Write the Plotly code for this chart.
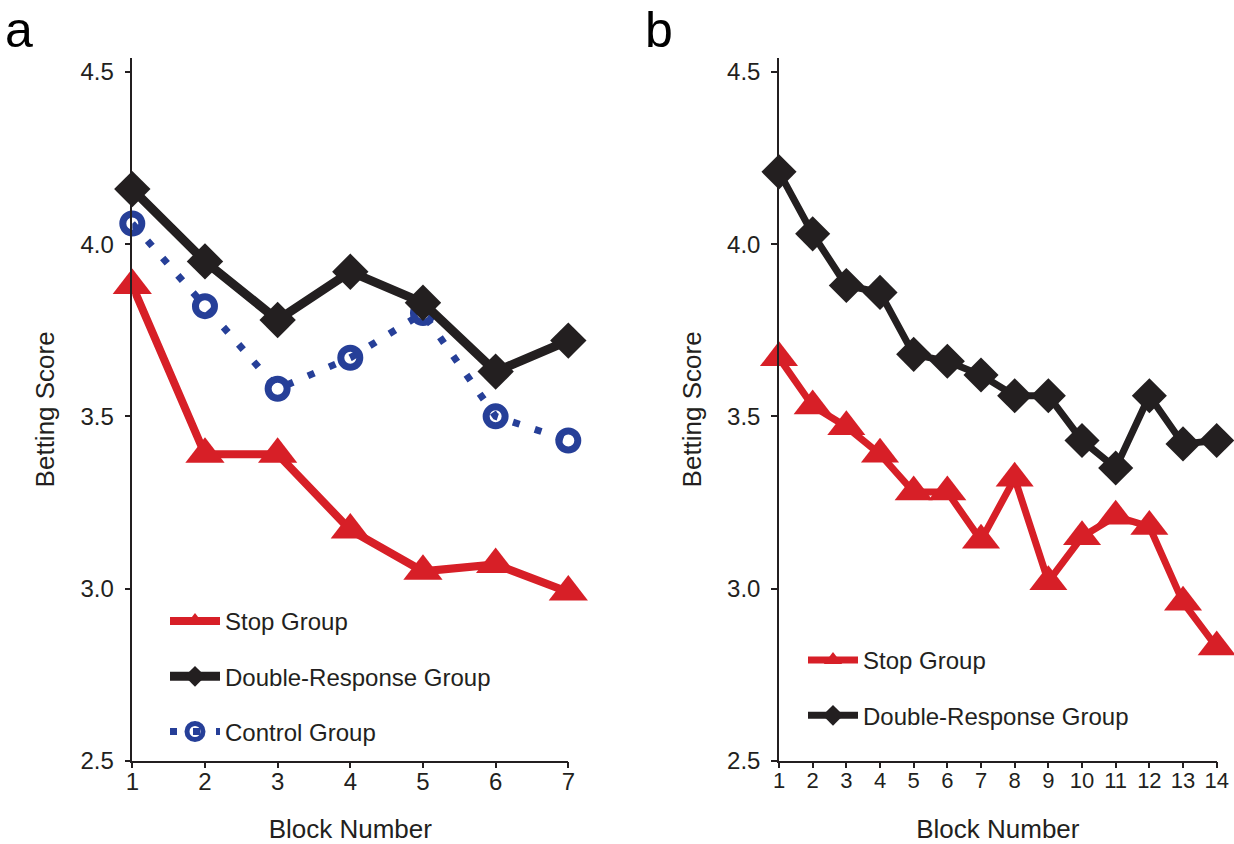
import plotly.graph_objects as go

# ---------------- data ----------------
blocks_a = [1, 2, 3, 4, 5, 6, 7]
stop_a = [3.88, 3.39, 3.39, 3.17, 3.05, 3.07, 2.99]
double_a = [4.16, 3.95, 3.78, 3.92, 3.83, 3.63, 3.72]
control_a = [4.06, 3.82, 3.58, 3.67, 3.80, 3.50, 3.43]

blocks_b = list(range(1, 15))
stop_b = [3.67, 3.53, 3.47, 3.39, 3.28, 3.28, 3.14, 3.32, 3.02, 3.15, 3.21, 3.18, 2.96, 2.83]
double_b = [4.21, 4.03, 3.88, 3.86, 3.68, 3.66, 3.62, 3.56, 3.56, 3.43, 3.35, 3.56, 3.42, 3.43]

y_ticks = [2.5, 3.0, 3.5, 4.0, 4.5]
y_ticktext = ["2.5", "3.0", "3.5", "4.0", "4.5"]

names = ["Stop Group", "Double-Response Group", "Control Group"]
panel_labels = ["a", "b"]
x_title = "Block Number"
y_title = "Betting Score"

# ---------------- style ----------------
RED = "#d71f27"
BLACK = "#231f20"
BLUE = "#263f98"
FONT = "Liberation Sans, Arial, Helvetica, sans-serif"
W, H = 1234, 844


def px(X):
    return X / W


def py(Y):
    return 1 - Y / H


fig = go.Figure()

# panel a (control drawn first so the other series overlap it)
fig.add_trace(go.Scatter(
    x=blocks_a, y=control_a, name=names[2], mode="lines+markers",
    line=dict(color=BLUE, width=7, dash="7px,16px"),
    marker=dict(symbol="circle-open", size=19, color=BLUE, line=dict(color=BLUE, width=7)),
    xaxis="x", yaxis="y", legend="legend", legendrank=3, legendgroup="c",
    cliponaxis=False))
fig.add_trace(go.Scatter(
    x=blocks_a, y=stop_a, name=names[0], mode="lines+markers",
    line=dict(color=RED, width=8),
    marker=dict(symbol="triangle-up", size=34, color=RED),
    xaxis="x", yaxis="y", legend="legend", legendrank=1, legendgroup="s",
    cliponaxis=False))
fig.add_trace(go.Scatter(
    x=blocks_a, y=double_a, name=names[1], mode="lines+markers",
    line=dict(color=BLACK, width=9),
    marker=dict(symbol="diamond", size=28, color=BLACK),
    xaxis="x", yaxis="y", legend="legend", legendrank=2, legendgroup="d",
    cliponaxis=False))

# panel b
fig.add_trace(go.Scatter(
    x=blocks_b, y=stop_b, name=names[0], mode="lines+markers",
    line=dict(color=RED, width=7),
    marker=dict(symbol="triangle-up", size=33, color=RED),
    xaxis="x2", yaxis="y2", legend="legend2", legendrank=1, legendgroup="s2",
    cliponaxis=False))
fig.add_trace(go.Scatter(
    x=blocks_b, y=double_b, name=names[1], mode="lines+markers",
    line=dict(color=BLACK, width=7),
    marker=dict(symbol="diamond", size=27, color=BLACK),
    xaxis="x2", yaxis="y2", legend="legend2", legendrank=2, legendgroup="d2",
    cliponaxis=False))

ydom = [py(760.7), py(58)]
yrange = [2.5, 4.5 + 14 / 344.35]

common_x = dict(
    showline=True, linecolor=BLACK, linewidth=1.5, ticks="outside", ticklen=6,
    tickwidth=1.5, tickcolor=BLACK, showgrid=False, zeroline=False, automargin=False,
    layer="above traces", tickfont=dict(family=FONT, size=24, color=BLACK),
    ticklabelstandoff=-7, ticklabeloverflow="allow",
    title=dict(text=x_title, font=dict(family=FONT, size=26, color=BLACK), standoff=29),
)
common_y = dict(
    showline=True, linecolor=BLACK, linewidth=1.5, ticks="outside", ticklen=6,
    tickwidth=1.5, tickcolor=BLACK, showgrid=False, zeroline=False, automargin=False,
    layer="above traces", range=yrange, domain=ydom,
    tickvals=y_ticks, ticktext=y_ticktext, ticklabelstandoff=6,
    tickfont=dict(family=FONT, size=24, color=BLACK),
    title=dict(text=y_title, font=dict(family=FONT, size=26, color=BLACK), standoff=18),
)

legend_common = dict(
    xanchor="left", yanchor="top", bgcolor="rgba(0,0,0,0)",
    font=dict(family=FONT, size=24, color=BLACK),
    tracegroupgap=21, traceorder="grouped", itemwidth=50,
)

fig.update_layout(
    width=W, height=H, margin=dict(l=0, r=0, t=0, b=0, autoexpand=False),
    paper_bgcolor="white", plot_bgcolor="white",
    font=dict(family=FONT, color=BLACK),
    xaxis=dict(common_x, domain=[px(132.3), px(568.3)], range=[1, 7],
               tickvals=blocks_a, anchor="y"),
    yaxis=dict(common_y, anchor="x"),
    xaxis2=dict(common_x, domain=[px(779), px(1216.7)], range=[1, 14],
                tickvals=blocks_b, anchor="y2",
                tickfont=dict(family=FONT, size=22, color=BLACK)),
    yaxis2=dict(common_y, anchor="x2"),
    showlegend=True,
    legend=dict(legend_common, x=px(165), y=py(599)),
    legend2=dict(legend_common, x=px(803), y=py(638)),
    annotations=[
        dict(text=panel_labels[0], x=px(3), y=1, xref="paper", yref="paper",
             xanchor="left", yanchor="top", showarrow=False,
             font=dict(family=FONT, size=50, color="black")),
        dict(text=panel_labels[1], x=px(643), y=1, xref="paper", yref="paper",
             xanchor="left", yanchor="top", showarrow=False,
             font=dict(family=FONT, size=50, color="black")),
    ],
)

# remove the default 8px page margin so the figure fills the 1234x844 window exactly
fig.write_html("out.html",
               config={"displayModeBar": False},
               post_script="document.body.style.margin='0';"
                           "document.body.style.overflow='hidden';")
